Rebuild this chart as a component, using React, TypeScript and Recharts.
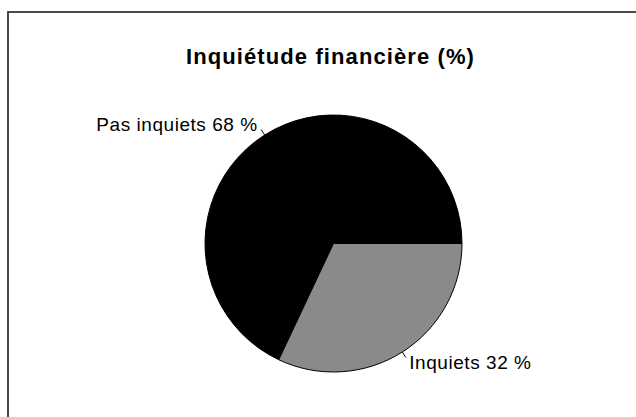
import React from "react";
import { PieChart, Pie, Cell } from "recharts";

const categories = ["Pas inquiets", "Inquiets"];
const values = [68, 32];
const colors = ["#000000", "#8a8a8a"];
const title = "Inquiétude financière (%)";

const data = categories.map((name, i) => ({ name, value: values[i] }));

const RAD = Math.PI / 180;
const FONT = "'Liberation Sans', Arial, sans-serif";

const renderLabel = (props: any) => {
  const { cx, cy, midAngle, outerRadius, name, value } = props;
  const r = outerRadius * 1.1;
  const x = cx + r * Math.cos(-midAngle * RAD);
  const y = cy + r * Math.sin(-midAngle * RAD);
  return (
    <text
      x={x}
      y={y}
      textAnchor={x < cx ? "end" : "start"}
      dominantBaseline="central"
      fontFamily={FONT}
      fontSize={19}
      letterSpacing={0.55}
      fill="#000"
    >
      {`${name} ${value} %`}
    </text>
  );
};

const renderLabelLine = (props: any) => {
  const { cx, cy, midAngle, outerRadius } = props;
  const c = Math.cos(-midAngle * RAD);
  const s = Math.sin(-midAngle * RAD);
  return (
    <line
      x1={cx + outerRadius * c}
      y1={cy + outerRadius * s}
      x2={cx + outerRadius * 1.05 * c}
      y2={cy + outerRadius * 1.05 * s}
      stroke="#000"
      strokeWidth={1}
    />
  );
};

export default function App() {
  return (
    <div style={{ position: "fixed", left: 0, top: 0, width: 636, height: 417, background: "#fff" }}>
      <div
        style={{
          position: "absolute",
          left: 7,
          top: 11,
          width: 629,
          height: 406,
          borderLeft: "2px solid #4a4a4a",
          borderTop: "2px solid #4a4a4a",
          boxSizing: "border-box",
        }}
      />
      <div
        style={{
          position: "absolute",
          left: 0,
          width: 661,
          top: 43,
          textAlign: "center",
          fontFamily: FONT,
          fontWeight: "bold",
          fontSize: 22,
          letterSpacing: 1.1,
          color: "#000",
          lineHeight: "28px",
        }}
      >
        {title}
      </div>
      <div style={{ position: "absolute", left: 0, top: 0 }}>
        <PieChart width={636} height={417} margin={{ top: 0, right: 0, bottom: 0, left: 0 }}>
          <Pie
            data={data}
            dataKey="value"
            nameKey="name"
            cx={333.5}
            cy={243.5}
            outerRadius={128.5}
            startAngle={0}
            endAngle={360}
            stroke="#000"
            strokeWidth={1}
            label={renderLabel}
            labelLine={renderLabelLine}
            isAnimationActive={false}
          >
            {data.map((d, i) => (
              <Cell key={d.name} fill={colors[i]} />
            ))}
          </Pie>
        </PieChart>
      </div>
    </div>
  );
}
